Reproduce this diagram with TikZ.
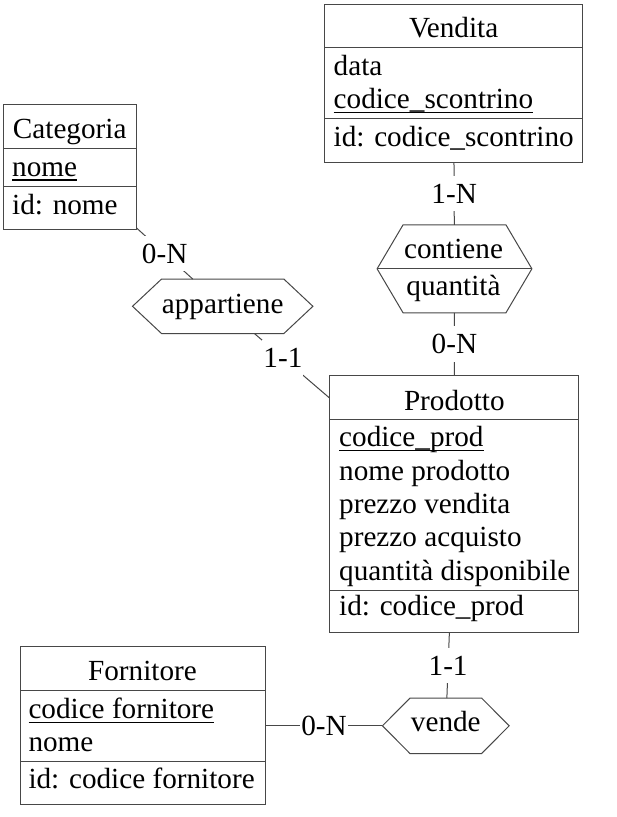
\documentclass[tikz,border=0pt]{standalone}
\usepackage{fontspec}
\setmainfont{Liberation Serif}
\newcommand{\erfont}{\fontsize{29.2}{33.3}\selectfont}
% underlined key attribute
\newcommand{\ulx}[1]{\setbox0=\hbox{#1}\rlap{\rule[-4.7pt]{\wd0}{1.5pt}}\box0}
% hexagonal outline around a relationship node (#1 name, #2 inset)
\newcommand{\erhex}[2]{%
  \draw[ln] (#1.west) -- ([xshift=#2]#1.north west) -- ([xshift=-#2]#1.north east)
    -- (#1.east) -- ([xshift=-#2]#1.south east) -- ([xshift=#2]#1.south west) -- cycle;}
\tikzset{
  ln/.style={draw=black!72, line width=1pt},
  ent/.style={ln, rectangle, inner sep=0pt},
  rel/.style={rectangle, inner sep=0pt, draw=none},
  txt/.style={inner sep=0pt, anchor=base west, font=\erfont},
  hdr/.style={inner sep=0pt, anchor=base, font=\erfont},
  card/.style={fill=white, inner xsep=1pt, inner ysep=8pt, font=\erfont},
}
\begin{document}
\begin{tikzpicture}[x=1pt,y=-1pt]
\useasboundingbox[fill=white] (0,0) rectangle (617,817);

% ---------- Vendita ----------
\node[ent, minimum width=258.5pt, minimum height=158.3pt] (vendita) at (453.6,83.2) {};
\draw[ln] (324.3,47) -- (582.8,47);
\draw[ln] (324.3,118) -- (582.8,118);
\node[hdr] (vendita-h) at (453.6,37.3) {Vendita};
\node[txt] (vendita-a1) at (333.5,75) {data};
\node[txt] (vendita-a2) at (333.5,108.3) {\ulx{codice\_scontrino}};
\node[txt] (vendita-id) at (333.5,146.7) {id: codice\_scontrino};

% ---------- Categoria ----------
\node[ent, minimum width=132.7pt, minimum height=125.3pt] (categoria) at (69.7,167.3) {};
\draw[ln] (3.3,148.3) -- (136,148.3);
\draw[ln] (3.3,186.7) -- (136,186.7);
\node[hdr] (categoria-h) at (69.7,138.3) {Categoria};
\node[txt] (categoria-a1) at (12,176) {\ulx{nome}};
\node[txt] (categoria-id) at (12,214) {id: nome};

% ---------- Prodotto ----------
\node[ent, minimum width=248.7pt, minimum height=256.7pt] (prodotto) at (454.3,504.3) {};
\draw[ln] (330,419.3) -- (578.7,419.3);
\draw[ln] (330,590) -- (578.7,590);
\node[hdr] (prodotto-h) at (454.3,410) {Prodotto};
\node[txt] (prodotto-a1) at (339,446.7) {\ulx{codice\_prod}};
\node[txt] (prodotto-a2) at (339,480) {nome prodotto};
\node[txt] (prodotto-a3) at (339,513.3) {prezzo vendita};
\node[txt] (prodotto-a4) at (339,546.7) {prezzo acquisto};
\node[txt] (prodotto-a5) at (339,580) {quantità disponibile};
\node[txt] (prodotto-id) at (339,615) {id: codice\_prod};

% ---------- Fornitore ----------
\node[ent, minimum width=245pt, minimum height=158.3pt] (fornitore) at (142.5,725.8) {};
\draw[ln] (20,690.7) -- (265,690.7);
\draw[ln] (20,761) -- (265,761);
\node[hdr] (fornitore-h) at (142.5,680.7) {Fornitore};
\node[txt] (fornitore-a1) at (28.3,718.3) {\ulx{codice fornitore}};
\node[txt] (fornitore-a2) at (28.3,751.7) {nome};
\node[txt] (fornitore-id) at (28.3,788.3) {id: codice fornitore};

% ---------- relationships ----------
\node[rel, minimum width=154.4pt, minimum height=87.7pt] (contiene) at (454.5,268.8) {};
\erhex{contiene}{26pt}
\draw[ln] (contiene.west) -- (contiene.east);
\node[hdr] (contiene-n) at (453.5,258.3) {contiene};
\node[hdr] (contiene-a) at (453.5,295) {quantità};

\node[rel, minimum width=180pt, minimum height=54pt] (appartiene) at (222.7,306.3) {};
\erhex{appartiene}{29pt}
\node[hdr] (appartiene-n) at (222.7,313.3) {appartiene};

\node[rel, minimum width=126.3pt, minimum height=55pt] (vende) at (445.8,725.8) {};
\erhex{vende}{27.5pt}
\node[hdr] (vende-n) at (445.8,731.7) {vende};

% ---------- connectors ----------
\draw[ln] (vendita) -- node[card] (c1) {1-N} (contiene);
\draw[ln] (contiene) -- node[card] (c2) {0-N} (prodotto);
\draw[ln] (categoria) -- node[card] (c3) {0-N} (appartiene);
\draw[ln] (appartiene) -- node[card, pos=0.38] (c4) {1-1} (prodotto);
\draw[ln] (prodotto) -- node[card] (c5) {1-1} (vende);
\draw[ln] (fornitore) -- node[card] (c6) {0-N} (vende);
\end{tikzpicture}
\end{document}
